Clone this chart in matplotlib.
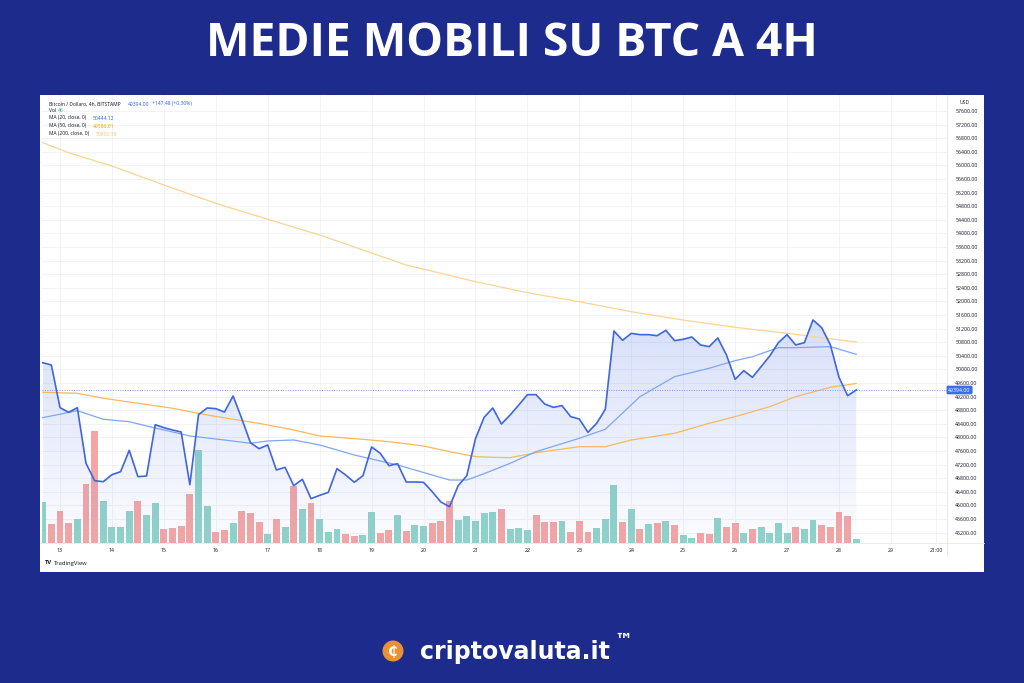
import numpy as np
import matplotlib
matplotlib.use("Agg")
import matplotlib.pyplot as plt
from matplotlib.patches import Rectangle, Circle
from matplotlib.lines import Line2D
from matplotlib.transforms import IdentityTransform
from matplotlib.ticker import FormatStrFormatter

# =========================
# dati (candele 4h BTC/USD, dal 12 ore 16:00 al 28 ore 08:00)
# =========================
close = [50197, 50130, 48874, 48738, 48874, 47239, 46727, 46697, 46903, 46992,
         47620, 46845, 46865, 48374, 48286, 48218, 48159, 46609, 48668, 48865,
         48845, 48747, 49218, 48551, 47845, 47668, 47777, 47041, 47120, 46580,
         46767, 46198, 46296, 46384, 47080, 46894, 46679, 46874, 47718, 47531,
         47168, 47227, 46688, 46688, 46679, 46404, 46100, 45962, 46580, 46874,
         47962, 48590, 48865, 48394, 48659, 48953, 49257, 49257, 48982, 48884,
         48933, 48610, 48541, 48149, 48414, 48826, 51130, 50856, 51061, 51022,
         51022, 50992, 51150, 50846, 50885, 50954, 50719, 50670, 50924, 50424,
         49709, 49963, 49767, 50081, 50395, 50787, 51022, 50719, 50787, 51453,
         51228, 50728, 49767, 49227, 49394]

volume = [435, 207, 342, 214, 260, 635, 1195, 453, 174, 174,
          342, 453, 303, 425, 147, 161, 185, 524, 992, 399,
          121, 136, 217, 346, 318, 228, 96, 260, 168, 613,
          367, 431, 260, 121, 153, 93, 78, 82, 335, 107,
          139, 303, 125, 193, 179, 211, 235, 449, 249, 286,
          239, 316, 335, 364, 150, 164, 136, 303, 221, 221,
          235, 114, 239, 114, 161, 260, 617, 221, 361, 153,
          203, 214, 235, 196, 82, 54, 110, 96, 271, 171,
          217, 107, 150, 168, 107, 217, 107, 171, 147, 246,
          193, 168, 328, 289, 46]

# t = candela in rialzo, r = candela in ribasso
vol_dir = ("trrrtrrttt" "trttrrrrtt" "rrtrrrtrtr" "trtttrrttr" "rtrttrrrtt"
           "tttrtttrrr" "trrrtttrtr" "trtrttrrtr" "rtrttttrtt" "rrrrt")

ma20_idx = [0, 4, 7, 10, 12, 17, 21, 24, 26, 29, 32, 36, 41, 45, 47, 49, 51, 54,
            57, 62, 65, 69, 73, 77, 80, 82, 85, 87, 91, 94]
ma20_val = [48580, 48786, 48533, 48462, 48336, 48042, 47924, 47827, 47895, 47924,
            47777, 47483, 47189, 46894, 46747, 46747, 46933, 47238, 47580, 47974,
            48238, 49198, 49786, 50033, 50257, 50374, 50639, 50639, 50669, 50444]

ma50_idx = [0, 4, 7, 11, 15, 19, 23, 25, 29, 32, 37, 40, 44, 47, 50, 52, 54, 57,
            62, 65, 68, 73, 77, 80, 84, 87, 91, 94]
ma50_val = [49327, 49298, 49151, 49004, 48857, 48659, 48492, 48414, 48218, 48042,
            47944, 47874, 47747, 47580, 47433, 47415, 47404, 47551, 47727, 47727,
            47924, 48121, 48415, 48610, 48904, 49198, 49474, 49586]

ma200_idx = [0, 3, 8, 14, 20, 26, 32, 37, 42, 46, 50, 56, 62, 68, 74, 80, 86, 94]
ma200_val = [56668, 56374, 55982, 55424, 54885, 54415, 53953, 53512, 53071, 52827,
             52580, 52256, 51991, 51697, 51453, 51238, 51062, 50802]

price_ticks = list(range(45200, 57601, 400))
day_ticks = [13, 14, 15, 16, 17, 18, 19, 20, 21, 22, 23, 24, 25, 26, 27, 28, 29, 29.875]
day_labels = ["13", "14", "15", "16", "17", "18", "19", "20", "21", "22", "23",
              "24", "25", "26", "27", "28", "29", "21:00"]

# =========================
# stile
# =========================
W, H = 1024, 683
BG = "#1d2c8c"
TXT = "#131722"
C_LINE = "#3f66dc"
C_MA20 = "#7ea6f2"
C_MA50 = "#f7b95e"
C_MA200 = "#fbd493"
C_UP = "#92d3ca"
C_DN = "#f5a6a4"
plt.rcParams["font.family"] = ["Open Sans", "DejaVu Sans"]


def fx(px):
    return px / W


def fy(py):
    return 1 - py / H


t0 = 12 + 16 / 24           # prima candela
t = t0 + np.arange(len(close)) / 6

fig = plt.figure(figsize=(10.24, 6.83), dpi=100, facecolor=BG)

# scheda bianca (sotto gli assi)
fig.patches.append(Rectangle((fx(40), fy(572)), fx(984) - fx(40), fy(95) - fy(572),
                             transform=fig.transFigure, facecolor="white",
                             edgecolor="none", zorder=-5))

# tre livelli: griglia, volumi, prezzo
rect = [fx(42), fy(543), fx(947) - fx(42), fy(95) - fy(543)]
ax = fig.add_axes(rect, zorder=3)
axg = fig.add_axes(rect, zorder=1, sharex=ax, sharey=ax)
axv = fig.add_axes(rect, zorder=2, sharex=ax)
for a in (ax, axg, axv):
    a.patch.set_visible(False)
    for s in a.spines.values():
        s.set_visible(False)

# volumi
axv.bar(t, volume, width=0.8 / 6,
        color=[C_UP if d == "t" else C_DN for d in vol_dir])
axv.set_ylim(0, 4794)
axv.set_yticks([])
axv.tick_params(axis="x", length=0, labelbottom=False)

# area con gradiente sotto il prezzo
ylo, yhi = 44894, 58071
poly = ax.fill_between(t, close, ylo, facecolor="none", edgecolor="none")
grad = np.zeros((256, 1, 4))
grad[:, 0, :3] = matplotlib.colors.to_rgb("#4a72e8")
grad[:, 0, 3] = np.linspace(0.22, 0.02, 256)
im = ax.imshow(grad, extent=[t[0], t[-1], ylo, max(close)], aspect="auto",
               origin="upper", zorder=1)
im.set_clip_path(poly.get_paths()[0], ax.transData)

ax.plot(t0 + np.array(ma200_idx) / 6, ma200_val, color=C_MA200, lw=0.9, zorder=2)
ax.plot(t0 + np.array(ma50_idx) / 6, ma50_val, color=C_MA50, lw=0.9, zorder=2)
ax.plot(t0 + np.array(ma20_idx) / 6, ma20_val, color=C_MA20, lw=0.9, zorder=2)
ax.plot(t, close, color=C_LINE, lw=1.2, zorder=3)

# ultimo prezzo
ax.axhline(close[-1], color="#7b9cf2", lw=0.7, ls=(0, (1, 1.5)), zorder=2)
ax.text(1.0015, close[-1], f"{close[-1]:.2f}", transform=ax.get_yaxis_transform(),
        ha="left", va="center", fontsize=3.8, color="white", zorder=5,
        bbox=dict(boxstyle="round,pad=0.35,rounding_size=0.3", fc="#3a6df0", ec="none"),
        clip_on=False)

ax.set_xlim(12.653, 30.08)
ax.set_ylim(ylo, yhi)
ax.yaxis.tick_right()
ax.set_yticks(price_ticks)
ax.yaxis.set_major_formatter(FormatStrFormatter("%.2f"))
ax.set_xticks(day_ticks)
ax.set_xticklabels(day_labels)
ax.tick_params(axis="y", length=0, pad=6, labelsize=3.8, labelcolor=TXT)
ax.tick_params(axis="x", length=0, pad=3.5, labelsize=3.8, labelcolor=TXT)

axg.grid(True, color="#f0f1f5", lw=0.6)
axg.tick_params(length=0, labelleft=False, labelright=False, labelbottom=False)

# bordi del pannello
fig.add_artist(Line2D([fx(40), fx(984)], [fy(543), fy(543)], color="#e6e8ee", lw=0.6))
fig.add_artist(Line2D([fx(947), fx(947)], [fy(95), fy(556)], color="#e6e8ee", lw=0.6))
fig.text(fx(965), fy(103), "USD", fontsize=3.6, color=TXT, ha="center", va="center")

# legenda in alto a sinistra
legend_rows = [
    (104, "Bitcoin / Dollaro, 4h, BITSTAMP", [(128, f"{close[-1]:.2f}", "#2962ff"),
                                              (152, "+147.48 (+0.30%)", "#2962ff")]),
    (111, "Vol", [(58, f"{volume[-1]}", "#26a69a")]),
    (118, "MA (20, close, 0)", [(93, "50444.12", "#2962ff")]),
    (126, "MA (50, close, 0)", [(93, "49586.01", "#ff9800")]),
    (134, "MA (200, close, 0)", [(96, "50802.38", "#f9c66a")]),
]
for y, lab, vals in legend_rows:
    fig.text(fx(49), fy(y), lab, fontsize=3.6, color=TXT, va="center")
    for x, v, c in vals:
        fig.text(fx(x), fy(y), v, fontsize=3.6, color=c, va="center")

fig.text(fx(45), fy(563), "TV", fontsize=4.2, color=TXT, fontweight="bold", va="center")
fig.text(fx(54), fy(563), "TradingView", fontsize=4.2, color=TXT, va="center")

# titolo
fig.text(0.5, fy(43), "MEDIE MOBILI SU BTC A 4H", ha="center", va="center",
         color="white", fontsize=33.3, fontweight="bold")

# logo
fig.add_artist(Circle((393, H - 651), 10.5, transform=IdentityTransform(),
                      facecolor="#ea9137", edgecolor="none"))
fig.text(fx(393), fy(652), "₵", ha="center", va="center", color="white",
         fontsize=10, fontweight="bold", family=["DejaVu Sans"])
fig.text(fx(420), fy(652), "criptovaluta.it", ha="left", va="center",
         color="white", fontsize=17, fontweight="bold", family=["DejaVu Sans"])
fig.text(fx(614), fy(641), "™", ha="left", va="center", color="white",
         fontsize=13, fontweight="bold", family=["DejaVu Sans"])

fig.savefig("out.png", dpi=100, facecolor=BG)
